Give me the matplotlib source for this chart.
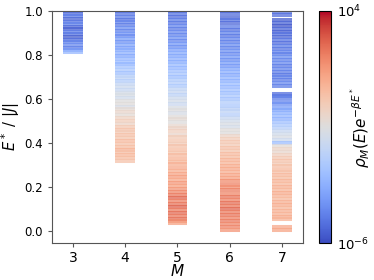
import matplotlib
matplotlib.use("Agg")
import matplotlib.pyplot as plt
from matplotlib.colors import LogNorm
from matplotlib.cm import ScalarMappable
import numpy as np

# energy levels E*/|J| per cluster size M, and log10 of rho_M(E) exp(-beta E*)
e3 = [0.998, 0.986, 0.975, 0.962, 0.951, 0.940, 0.928, 0.916, 0.904, 0.893,
      0.880, 0.868, 0.857, 0.845, 0.833, 0.822, 0.815]
w3 = [-5.0, -5.2, -4.8, -5.4, -5.0, -4.7, -5.3, -5.5, -4.8, -5.0,
      -5.6, -5.2, -4.7, -4.5, -4.8, -4.2, -3.2]

e4 = [0.998, 0.985, 0.972, 0.960, 0.948, 0.935, 0.922, 0.910, 0.897, 0.884,
      0.872, 0.860, 0.847, 0.833, 0.821, 0.808, 0.795, 0.783, 0.770, 0.757,
      0.744, 0.731, 0.719, 0.706, 0.693, 0.680, 0.667, 0.654, 0.642, 0.629,
      0.616, 0.603, 0.590, 0.578, 0.565, 0.552, 0.539, 0.526, 0.513, 0.500,
      0.487, 0.474, 0.461, 0.448, 0.435, 0.422, 0.409, 0.396, 0.383, 0.370,
      0.357, 0.344, 0.331, 0.318]
w4 = [-5.2, -5.0, -4.8, -5.1, -4.6, -4.9, -4.4, -4.7, -4.2, -4.5,
      -4.0, -4.3, -3.8, -3.9, -3.6, -3.4, -3.7, -3.2, -3.0, -3.3,
      -2.8, -2.6, -2.9, -2.3, -2.0, -2.4, -1.9, -1.6, -1.8, -1.4,
      -1.2, -1.5, -1.0, -0.9, -1.3, -0.7, -0.5, -0.8, -0.3, -0.1,
      -0.4, 0.1, 0.3, 0.0, 0.4, 0.2, 0.6, 0.3, 0.5, 0.8,
      0.4, 0.7, 0.5, 0.3]

e5 = [0.998, 0.985, 0.971, 0.958, 0.944, 0.930, 0.917, 0.903, 0.889, 0.876,
      0.862, 0.848, 0.835, 0.821, 0.807, 0.794, 0.780, 0.766, 0.753, 0.739,
      0.725, 0.712, 0.698, 0.684, 0.671, 0.657, 0.643, 0.630, 0.616, 0.602,
      0.589, 0.575, 0.561, 0.548, 0.534, 0.520, 0.507, 0.493, 0.479, 0.466,
      0.452, 0.438, 0.425, 0.411, 0.397, 0.384, 0.370, 0.356, 0.343, 0.329,
      0.315, 0.302, 0.288, 0.274, 0.261, 0.247, 0.233, 0.220, 0.206, 0.192,
      0.179, 0.165, 0.151, 0.138, 0.124, 0.110, 0.097, 0.083, 0.069, 0.056,
      0.044, 0.035]
w5 = [-5.3, -5.0, -5.2, -4.8, -5.0, -4.6, -4.9, -4.5, -4.7, -4.3,
      -4.6, -4.1, -4.4, -3.9, -3.6, -3.8, -3.4, -3.6, -3.1, -3.3,
      -2.9, -2.7, -3.0, -2.5, -2.3, -2.6, -2.0, -1.8, -2.1, -1.6,
      -1.4, -1.7, -1.2, -1.0, -1.3, -0.9, -0.7, -1.0, -0.6, -0.4,
      -0.2, -0.5, 0.0, 0.2, -0.1, 0.3, 0.5, 0.2, 0.6, 0.8,
      0.6, 0.9, 1.1, 0.9, 1.2, 1.4, 1.1, 1.5, 1.3, 1.6,
      1.9, 2.2, 2.6, 2.0, 2.3, 2.7, 2.1, 2.5, 2.2, 2.4,
      1.9, 1.3]

e6 = [0.998, 0.984, 0.970, 0.957, 0.943, 0.929, 0.915, 0.901, 0.888, 0.874,
      0.860, 0.846, 0.832, 0.819, 0.805, 0.791, 0.777, 0.763, 0.750, 0.736,
      0.722, 0.708, 0.694, 0.681, 0.667, 0.653, 0.639, 0.625, 0.612, 0.598,
      0.584, 0.570, 0.556, 0.543, 0.529, 0.515, 0.501, 0.487, 0.474, 0.460,
      0.446, 0.432, 0.418, 0.405, 0.391, 0.377, 0.363, 0.349, 0.336, 0.322,
      0.308, 0.294, 0.280, 0.267, 0.253, 0.239, 0.225, 0.211, 0.198, 0.184,
      0.170, 0.156, 0.142, 0.129, 0.115, 0.101, 0.087, 0.073, 0.060, 0.046,
      0.032, 0.020, 0.002]
w6 = [-5.5, -5.2, -5.4, -5.0, -5.3, -4.9, -5.1, -4.7, -5.0, -4.6,
      -4.8, -4.4, -4.7, -4.3, -4.5, -4.1, -4.4, -4.0, -4.2, -3.8,
      -3.5, -3.7, -3.3, -3.5, -3.0, -3.2, -2.8, -3.0, -2.6, -2.8,
      -2.4, -2.6, -2.2, -2.0, -2.3, -1.8, -1.5, -1.2, -1.4, -0.9,
      -1.0, -0.4, -0.1, 0.2, 0.0, 0.4, 0.2, 0.6, 0.5, 0.8,
      0.7, 1.0, 1.1, 0.9, 1.2, 1.3, 1.8, 2.0, 1.7, 2.1,
      1.9, 2.3, 2.0, 2.4, 2.2, 2.6, 2.1, 2.3, 2.0, 2.2,
      1.9, 2.0, 1.6]

e7 = [0.995, 0.983, 0.958, 0.945, 0.932, 0.919, 0.906, 0.893, 0.880, 0.867,
      0.854, 0.841, 0.828, 0.815, 0.802, 0.789, 0.776, 0.763, 0.750, 0.737,
      0.724, 0.711, 0.698, 0.685, 0.672, 0.661,
      0.624, 0.612, 0.602,
      0.588, 0.575, 0.561, 0.548, 0.534, 0.521, 0.507, 0.494, 0.481, 0.467,
      0.454, 0.440, 0.427, 0.413, 0.400, 0.387, 0.373, 0.360, 0.346, 0.333,
      0.319, 0.306, 0.293, 0.279, 0.266, 0.252, 0.239, 0.225, 0.212, 0.199,
      0.185, 0.172, 0.158, 0.145, 0.131, 0.118, 0.105, 0.091, 0.078, 0.064,
      0.054,
      0.017, 0.004]
w7 = [-5.0, -5.2, -5.6, -5.4, -5.7, -5.3, -5.5, -5.1, -5.4, -5.0,
      -5.2, -4.8, -5.0, -4.6, -4.8, -4.4, -4.7, -4.5, -4.9, -4.6,
      -4.8, -5.0, -4.7, -4.9, -4.5, -4.8,
      -5.2, -5.0, -4.8,
      -4.6, -4.3, -4.0, -3.8, -3.5, -3.2, -3.4, -2.9, -2.6, -2.3,
      -1.8, -1.5, -1.2, -1.6, -3.0, -0.8, -0.4, -0.6, -0.2, 0.1,
      0.3, 0.0, 0.4, 0.6, 0.3, 0.7, 0.5, 0.8, 0.6, 0.9,
      0.7, 1.0, 0.8, 0.6, 0.9, 1.0, 0.7, 0.9, 0.8, 1.0,
      0.8,
      1.1, 1.2]

sizes = [3, 4, 5, 6, 7]
levels = [e3, e4, e5, e6, e7]
weights = [w3, w4, w5, w6, w7]

cmap = plt.get_cmap('coolwarm')
norm = LogNorm(vmin=1e-6, vmax=1e4)

fig = plt.figure(figsize=(3.74, 2.80), dpi=100)
ax = fig.add_axes([0.139, 0.132, 0.671, 0.829])

for m, e, w in zip(sizes, levels, weights):
    cols = cmap(norm(10.0 ** np.array(w)))
    ax.hlines(e, m - 0.19, m + 0.19, colors=cols, linewidth=2.9, alpha=0.75)

ax.set_xlim(2.6, 7.4)
ax.set_ylim(-0.055, 1.0)
ax.set_xticks(sizes)
ax.set_yticks([0.0, 0.2, 0.4, 0.6, 0.8, 1.0])
ax.tick_params(axis='x', labelsize=10, length=3, color='#555555', pad=2.5)
ax.tick_params(axis='y', labelsize=8.5, length=3, color='#555555')
for s in ax.spines.values():
    s.set_color('#555555')
ax.set_xlabel('$M$', fontsize=11, labelpad=-1)
ax.set_ylabel('$E^*$ / $|J|$', fontsize=10.5, labelpad=2)

cax = fig.add_axes([0.853, 0.132, 0.032, 0.829])
sm = ScalarMappable(norm=norm, cmap=cmap)
cb = fig.colorbar(sm, cax=cax)
cb.set_ticks([1e-6, 1e4])
cb.ax.minorticks_off()
cb.ax.tick_params(length=0, labelsize=9.5, pad=4)
cb.ax.text(3.4, 0.5, r'$\rho_M(E)e^{-\beta E^*}$', transform=cb.ax.transAxes,
           rotation=90, ha='center', va='center', fontsize=11)

fig.savefig('out.png', dpi=100)
